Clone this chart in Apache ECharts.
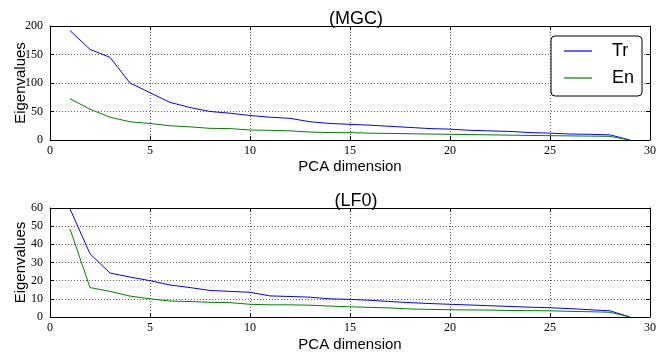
<!DOCTYPE html>
<html>
<head>
<meta charset="utf-8">
<script src="https://cdn.jsdelivr.net/npm/echarts@6/dist/echarts.min.js"></script>
<style>
  html, body { margin: 0; padding: 0; background: #fff; }
  #main { width: 659px; height: 353px; }
</style>
</head>
<body>
<div id="main"></div>
<script>
// PCA dimension index
const dims = [1, 2, 3, 4, 5, 6, 7, 8, 9, 10, 11, 12, 13, 14, 15, 16, 17, 18, 19, 20, 21, 22, 23, 24, 25, 26, 27, 28, 29];
// (MGC) eigenvalues
const mgcTr = [192, 159, 145, 100, 83, 66, 57, 50, 47, 43, 40, 38, 32, 29, 27.5, 26, 24, 22, 20, 19, 17, 16, 15, 13, 12, 10.5, 10, 9, 0];
const mgcEn = [72.5, 54, 40, 32, 29, 25, 23, 20.5, 20, 17.5, 17, 16, 14, 13, 12.9, 12, 11.5, 11, 10.5, 10, 9.5, 9, 8.5, 8, 7.6, 7.2, 6.8, 6.4, 0];
// (LF0) eigenvalues
const lf0Tr = [59.5, 34.8, 24.2, 22, 20, 17.6, 16.2, 14.6, 14.1, 13.6, 11.6, 11.3, 10.9, 10, 9.7, 9.2, 8.5, 7.9, 7.4, 7, 6.6, 6.2, 5.8, 5.4, 5.1, 4.6, 4, 3.4, 0];
const lf0En = [48.5, 16.2, 14.1, 11.5, 10, 8.8, 8.5, 8.1, 7.9, 7, 6.7, 6.7, 6.5, 6, 5.6, 5.3, 5, 4.4, 4.2, 4, 3.9, 3.8, 3.6, 3.5, 3.4, 3.1, 2.9, 2.6, 0];

const sans = 'Liberation Sans';
const serif = 'Liberation Serif';
const pair = (ys) => dims.map((d, i) => [d, ys[i]]);

const gridLine = { show: true, lineStyle: { color: '#333', width: 0.8, type: [1, 2] } };
const frame = { show: true, onZero: false, lineStyle: { color: '#000', width: 1 } };
const tick = { show: true, inside: true, length: 4, lineStyle: { color: '#000' } };

function xAxes(gi, gap) {
  return [{
    type: 'value', gridIndex: gi, min: 0, max: 30, interval: 5,
    position: 'bottom',
    name: 'PCA dimension', nameLocation: 'middle', nameGap: gap,
    nameTextStyle: { fontFamily: sans, fontSize: 15, color: '#000' },
    axisLine: frame, axisTick: tick, splitLine: gridLine,
    axisLabel: { fontFamily: serif, fontSize: 12, color: '#000', margin: 5 }
  }, {
    type: 'value', gridIndex: gi, min: 0, max: 30, interval: 5,
    position: 'top',
    axisLine: frame, axisTick: tick, splitLine: { show: false },
    axisLabel: { show: false }
  }];
}

function yAxes(gi, max, step) {
  return [{
    type: 'value', gridIndex: gi, min: 0, max: max, interval: step,
    position: 'left',
    name: 'Eigenvalues', nameLocation: 'middle', nameGap: 22, nameMoveOverlap: false,
    nameTextStyle: { fontFamily: sans, fontSize: 15, color: '#000' },
    axisLine: frame, axisTick: tick, splitLine: gridLine,
    axisLabel: { fontFamily: serif, fontSize: 12, color: '#000', margin: 7 }
  }, {
    type: 'value', gridIndex: gi, min: 0, max: max, interval: step,
    position: 'right',
    axisLine: frame, axisTick: tick, splitLine: { show: false },
    axisLabel: { show: false }
  }];
}

function line(name, color, ys, gi) {
  return {
    type: 'line', name: name, data: pair(ys),
    xAxisIndex: gi * 2, yAxisIndex: gi * 2,
    symbol: 'none', lineStyle: { color: color, width: 1 }, itemStyle: { color: color },
    animation: false
  };
}

const chart = echarts.init(document.getElementById('main'));
chart.setOption({
  backgroundColor: '#fff',
  animation: false,
  title: [{
    text: '(MGC)', left: 351, top: 5, textAlign: 'center',
    textStyle: { fontFamily: sans, fontSize: 18, fontWeight: 'normal', color: '#000' }
  }, {
    text: '(LF0)', left: 351, top: 187, textAlign: 'center',
    textStyle: { fontFamily: sans, fontSize: 18, fontWeight: 'normal', color: '#000' }
  }],
  legend: {
    data: ['Tr', 'En'],
    orient: 'vertical',
    left: 551, top: 36,
    padding: [6, 8, 9, 13],
    icon: 'rect',
    itemWidth: 28, itemHeight: 1.2, itemGap: 9,
    backgroundColor: '#fff',
    borderColor: '#000', borderWidth: 1, borderRadius: 4,
    formatter: (n) => '{t|' + n + '}',
    textStyle: {
      rich: { t: { fontFamily: sans, fontSize: 18, color: '#000', lineHeight: 18, padding: [0, 0, 0, 15] } }
    }
  },
  grid: [
    { left: 50, right: 7, top: 26, height: 114 },
    { left: 50, right: 7, top: 208, height: 114 }
  ],
  xAxis: [...xAxes(0, 19), ...xAxes(1, 20)],
  yAxis: [...yAxes(0, 200, 50), ...yAxes(1, 60, 10)],
  series: [
    line('Tr', '#0000ff', mgcTr, 0),
    line('En', '#008000', mgcEn, 0),
    line('Tr', '#0000ff', lf0Tr, 1),
    line('En', '#008000', lf0En, 1)
  ]
});
</script>
</body>
</html>
